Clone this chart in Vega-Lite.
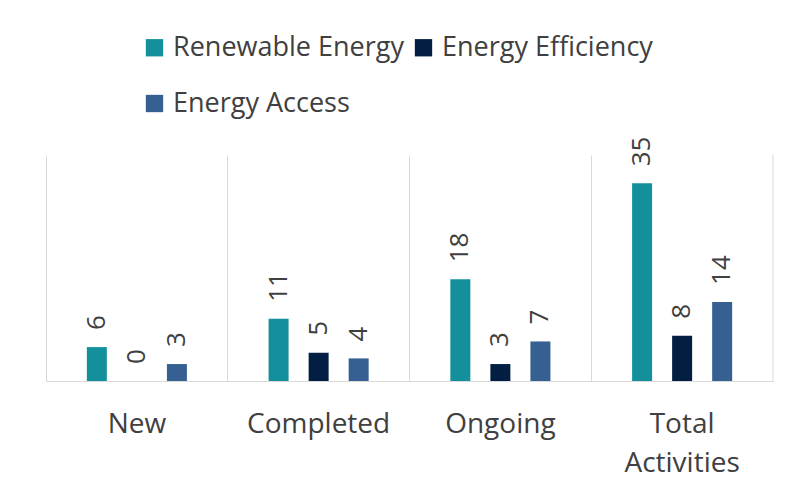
{
  "$schema": "https://vega.github.io/schema/vega-lite/v6.json",
  "width": 727,
  "height": 226,
  "autosize": "none",
  "padding": {"left": 46, "top": 155, "right": 31, "bottom": 115},
  "background": "white",
  "config": {
    "font": "Open Sans",
    "view": {"stroke": null},
    "axis": {"labelFont": "Open Sans"},
    "legend": {"labelFont": "Open Sans"}
  },
  "data": {
    "values": [
      {"cat": "New", "series": "Renewable Energy", "value": 6},
      {"cat": "New", "series": "Energy Efficiency", "value": 0},
      {"cat": "New", "series": "Energy Access", "value": 3},
      {"cat": "Completed", "series": "Renewable Energy", "value": 11},
      {"cat": "Completed", "series": "Energy Efficiency", "value": 5},
      {"cat": "Completed", "series": "Energy Access", "value": 4},
      {"cat": "Ongoing", "series": "Renewable Energy", "value": 18},
      {"cat": "Ongoing", "series": "Energy Efficiency", "value": 3},
      {"cat": "Ongoing", "series": "Energy Access", "value": 7},
      {"cat": "Total Activities", "series": "Renewable Energy", "value": 35},
      {"cat": "Total Activities", "series": "Energy Efficiency", "value": 8},
      {"cat": "Total Activities", "series": "Energy Access", "value": 14}
    ]
  },
  "encoding": {
    "x": {
      "field": "cat",
      "type": "nominal",
      "sort": ["New", "Completed", "Ongoing", "Total Activities"],
      "scale": {"paddingInner": 0, "paddingOuter": 0},
      "axis": {
        "title": null,
        "labelAngle": 0,
        "labelFontSize": 28,
        "labelColor": "#404040",
        "labelPadding": 29,
        "labelLineHeight": 39,
        "labelExpr": "datum.label == 'Total Activities' ? ['Total', 'Activities'] : datum.label",
        "ticks": false,
        "domainColor": "#d9d9d9",
        "domainWidth": 1,
        "grid": true,
        "gridColor": "#d9d9d9",
        "gridWidth": 1,
        "bandPosition": 0
      }
    }
  },
  "layer": [
    {
      "mark": {"type": "bar", "width": 20},
      "encoding": {
        "xOffset": {
          "field": "series",
          "type": "nominal",
          "sort": ["Renewable Energy", "Energy Efficiency", "Energy Access"],
          "scale": {"paddingInner": 0.46, "paddingOuter": 1.25}
        },
        "y": {"field": "value", "type": "quantitative", "scale": {"domain": [0, 40]}, "axis": null},
        "color": {
          "field": "series",
          "type": "nominal",
          "sort": ["Renewable Energy", "Energy Efficiency", "Energy Access"],
          "scale": {"domain": ["Renewable Energy", "Energy Efficiency", "Energy Access"], "range": ["#13909C", "#021E42", "#366092"]},
          "legend": {
            "title": null,
            "orient": "none",
            "legendX": 95,
            "legendY": -121,
            "direction": "horizontal",
            "columns": 2,
            "symbolType": "square",
            "symbolSize": 300,
            "symbolStrokeWidth": 0,
            "symbolOpacity": 1,
            "labelFontSize": 27,
            "labelColor": "#404040",
            "labelOffset": 5,
            "columnPadding": 6,
            "rowPadding": 28,
            "padding": 0,
            "labelLimit": 400
          }
        }
      }
    },
    {
      "mark": {"type": "text", "angle": 270, "align": "left", "baseline": "middle", "dx": 17, "fontSize": 26, "color": "#404040"},
      "encoding": {
        "xOffset": {
          "field": "series",
          "type": "nominal",
          "sort": ["Renewable Energy", "Energy Efficiency", "Energy Access"],
          "scale": {"paddingInner": 0.46, "paddingOuter": 1.25}
        },
        "y": {"field": "value", "type": "quantitative"},
        "text": {"field": "value", "type": "quantitative"}
      }
    },
    {
      "transform": [{"filter": "datum.cat == 'Total Activities' && datum.series == 'Renewable Energy'"}],
      "mark": {"type": "rule", "color": "#d9d9d9", "strokeWidth": 1},
      "encoding": {
        "x": {"field": "cat", "type": "nominal", "bandPosition": 1, "sort": ["New", "Completed", "Ongoing", "Total Activities"]}
      }
    }
  ]
}
